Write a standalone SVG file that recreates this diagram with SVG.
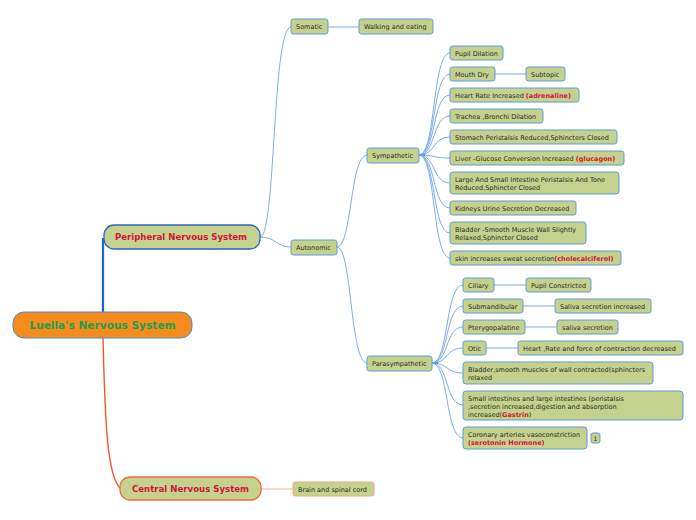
<svg xmlns="http://www.w3.org/2000/svg" width="696" height="520" viewBox="0 0 696 520">
<style>
.n rect{fill:#C4D28D;stroke:#5F9BDB;stroke-width:1}
.n text{font-family:"DejaVu Sans",Verdana,sans-serif;font-size:6.5px;fill:#2a2a2a}
.n .r,.r{fill:#D2143A;font-weight:bold}
.c path{fill:none;stroke:#6FA3EA;stroke-width:0.9}
</style>
<rect width="696" height="520" fill="#ffffff"/>
<g id="connectors" class="c">
<path d="M103 312 V238" style="stroke:#1F62D6;stroke-width:2.2"/>
<path d="M103 338 C105 420 107 478 121 489" style="stroke:#F05A2A;stroke-width:1.4"/>
<path d="M261 489 C277 489 277 489 293 489" style="stroke:#F7AE98;stroke-width:1"/>
<path d="M260 237 C276 237 272 27 291 27"/>
<path d="M260 237 C276 237 276 247 291 247"/>
<path d="M328 27 H359"/>
<path d="M337 247 C352 247 350 155 367 155"/>
<path d="M337 247 C352 247 350 363 367 363"/>
<path d="M419 155 H425" style="stroke:#1F62D6;stroke-width:2.2"/>
<path d="M419 155 C436 155 432 53 450 53"/>
<path d="M419 155 C436 155 432 74 450 74"/>
<path d="M419 155 C436 155 432 95 450 95"/>
<path d="M419 155 C436 155 432 116 450 116"/>
<path d="M419 155 C436 155 432 137 450 137"/>
<path d="M419 155 C436 155 432 158 450 158"/>
<path d="M419 155 C436 155 432 183 450 183"/>
<path d="M419 155 C436 155 432 208 450 208"/>
<path d="M419 155 C436 155 432 233 450 233"/>
<path d="M419 155 C436 155 432 258 450 258"/>
<path d="M495 74 H526"/>
<path d="M432 363 H438" style="stroke:#1F62D6;stroke-width:2.2"/>
<path d="M432 363 C449 363 445 285 463 285"/>
<path d="M432 363 C449 363 445 306 463 306"/>
<path d="M432 363 C449 363 445 327 463 327"/>
<path d="M432 363 C449 363 445 348 463 348"/>
<path d="M432 363 C449 363 445 373 463 373"/>
<path d="M432 363 C449 363 445 405 463 405"/>
<path d="M432 363 C449 363 445 438 463 438"/>
<path d="M494 285 H526"/>
<path d="M523 306 H555"/>
<path d="M525 327 H557"/>
<path d="M486 348 H518"/>
</g>
<g id="root">
<rect x="13" y="312" width="179" height="26" rx="11" fill="#F68B1F" stroke="#4F8BCB" stroke-width="1"/>
<text x="102.5" y="329" text-anchor="middle" font-family="DejaVu Sans,Verdana,sans-serif" font-size="10.6" font-weight="bold" fill="#1AA04A">Luella's Nervous System</text>
</g>
<g id="peripheral">
<rect x="104" y="225" width="156" height="24" rx="10" fill="#C4D28D" stroke="#2466C8" stroke-width="1.3"/>
<text x="181" y="240" text-anchor="middle" font-family="DejaVu Sans,Verdana,sans-serif" font-size="8.6" font-weight="bold" fill="#D2143A">Peripheral Nervous System</text>
</g>
<g id="central">
<rect x="120" y="477" width="141" height="23" rx="10" fill="#C4D28D" stroke="#F06A3A" stroke-width="1.3"/>
<text x="190.5" y="492" text-anchor="middle" font-family="DejaVu Sans,Verdana,sans-serif" font-size="8.6" font-weight="bold" fill="#D2143A">Central Nervous System</text>
</g>
<g id="brain" class="n"><rect x="293" y="482" width="81" height="14" rx="2.5" style="stroke:#F2A585"/><text x="298" y="491.5">Brain and spinal cord</text></g>
<g id="somatic" class="n"><rect x="291" y="19" width="37" height="15" rx="2.5"/><text x="296" y="29">Somatic</text></g>
<g id="walking" class="n"><rect x="359" y="19" width="74" height="15" rx="2.5"/><text x="364" y="29">Walking and eating</text></g>
<g id="autonomic" class="n"><rect x="291" y="240" width="46" height="15" rx="2.5"/><text x="296" y="250">Autonomic</text></g>
<g id="sympathetic" class="n"><rect x="367" y="148" width="52" height="15" rx="2.5"/><text x="372" y="158">Sympathetic</text></g>
<g id="parasympathetic" class="n"><rect x="367" y="356" width="65" height="15" rx="2.5"/><text x="372" y="366">Parasympathetic</text></g>
<g id="pupil-dilation" class="n"><rect x="450" y="46" width="53" height="14" rx="2.5"/><text x="455" y="55.5">Pupil Dilation</text></g>
<g id="mouth-dry" class="n"><rect x="450" y="67" width="45" height="14" rx="2.5"/><text x="455" y="76.5">Mouth Dry</text></g>
<g id="subtopic" class="n"><rect x="526" y="67" width="39" height="14" rx="2.5"/><text x="531" y="76.5">Subtopic</text></g>
<g id="heart-rate" class="n"><rect x="450" y="88" width="129" height="14" rx="2.5"/><text x="455" y="97.5">Heart Rate Increased <tspan class="r">(adrenaline)</tspan></text></g>
<g id="trachea" class="n"><rect x="450" y="109" width="93" height="14" rx="2.5"/><text x="455" y="118.5">Trachea ,Bronchi Dilation</text></g>
<g id="stomach" class="n"><rect x="450" y="130" width="167" height="14" rx="2.5"/><text x="455" y="139.5">Stomach Peristalsis Reduced,Sphincters Closed</text></g>
<g id="liver" class="n"><rect x="450" y="151" width="174" height="14" rx="2.5"/><text x="455" y="160.5">Liver -Glucose Conversion Increased <tspan class="r">(glucagon)</tspan></text></g>
<g id="intestine" class="n"><rect x="450" y="172" width="169" height="22" rx="3"/><text x="455" y="181.5">Large And Small Intestine Peristalsis And Tone</text><text x="455" y="189.5">Reduced,Sphincter Closed</text></g>
<g id="kidneys" class="n"><rect x="450" y="201" width="126" height="14" rx="2.5"/><text x="455" y="210.5">Kidneys Urine Secretion Decreased</text></g>
<g id="bladder-s" class="n"><rect x="450" y="222" width="136" height="22" rx="3"/><text x="455" y="231.5">Bladder -Smooth Muscle Wall Slightly</text><text x="455" y="239.5">Relaxed,Sphincter Closed</text></g>
<g id="skin" class="n"><rect x="450" y="251" width="171" height="14" rx="2.5"/><text x="455" y="260.5">skin increases sweat secretion<tspan class="r">(cholecalciferol)</tspan></text></g>
<g id="ciliary" class="n"><rect x="463" y="278" width="31" height="14" rx="2.5"/><text x="468" y="287.5">Ciliary</text></g>
<g id="pupil-constricted" class="n"><rect x="526" y="278" width="65" height="14" rx="2.5"/><text x="531" y="287.5">Pupil Constricted</text></g>
<g id="submandibular" class="n"><rect x="463" y="299" width="60" height="14" rx="2.5"/><text x="468" y="308.5">Submandibular</text></g>
<g id="saliva-inc" class="n"><rect x="555" y="299" width="96" height="14" rx="2.5"/><text x="560" y="308.5">Saliva secretion increased</text></g>
<g id="pterygopalatine" class="n"><rect x="463" y="320" width="62" height="14" rx="2.5"/><text x="468" y="329.5">Pterygopalatine</text></g>
<g id="saliva" class="n"><rect x="557" y="320" width="61" height="14" rx="2.5"/><text x="562" y="329.5">saliva secretion</text></g>
<g id="otic" class="n"><rect x="463" y="341" width="23" height="14" rx="2.5"/><text x="468" y="350.5">Otic</text></g>
<g id="heart-dec" class="n"><rect x="518" y="341" width="165" height="14" rx="2.5"/><text x="523" y="350.5">Heart ,Rate and force of contraction decreased</text></g>
<g id="bladder-p" class="n"><rect x="463" y="362" width="190" height="22" rx="3"/><text x="468" y="371.5">Bladder,smooth muscles of wall contracted(sphincters</text><text x="468" y="379.5">relaxed</text></g>
<g id="small-int" class="n"><rect x="463" y="391" width="220" height="29" rx="3"/><text x="468" y="400.5">Small intestines and large intestines (peristalsis</text><text x="468" y="408.5">,secretion increased,digestion and absorption</text><text x="468" y="416.5">increased(<tspan class="r">Gastrin</tspan>)</text></g>
<g id="coronary" class="n"><rect x="463" y="427" width="124" height="22" rx="3"/><text x="468" y="436.5">Coronary arteries vasoconstriction</text><text x="468" y="444.5" class="r">(serotonin Hormone)</text></g>
<g id="badge" class="n"><rect x="591" y="433" width="9" height="10" rx="2"/><text x="595.5" y="440.5" text-anchor="middle" style="font-size:6px">1</text></g>
</svg>
